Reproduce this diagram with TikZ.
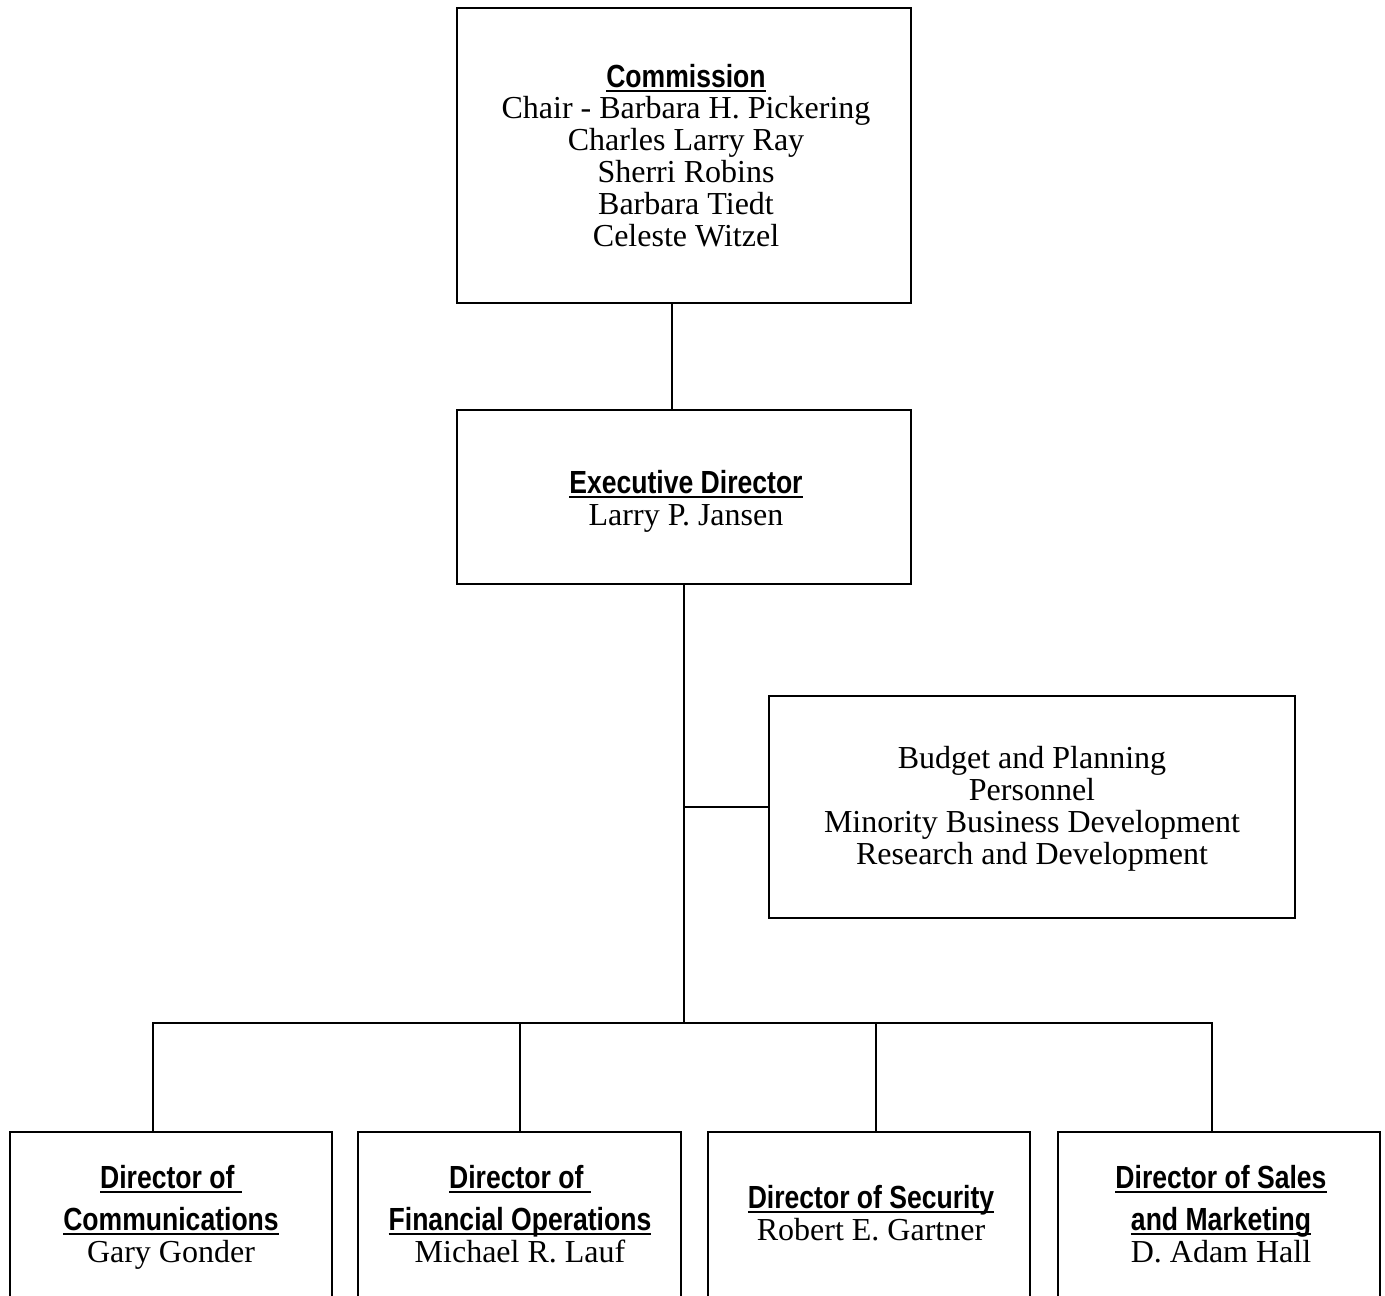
\documentclass[tikz,border=0pt]{standalone}
\usepackage{fontspec}
\setmainfont{Liberation Serif}
\newfontfamily\hdfont[FakeStretch=0.83]{Liberation Sans}
\newsavebox\hulbox
\newcommand\hul[1]{\sbox\hulbox{#1}\rlap{\rule[-4.5pt]{\wd\hulbox}{2pt}}\usebox\hulbox}
\tikzset{
  box/.style={draw, line width=2.8pt, inner sep=0pt, outer sep=0pt},
  conn/.style={line width=2.8pt},
  hd/.style={font=\hdfont\bfseries\fontsize{32}{34}\selectfont, anchor=base, inner sep=0pt},
  tx/.style={font=\fontsize{32}{32}\selectfont, anchor=base, inner sep=0pt},
}
\begin{document}
\begin{tikzpicture}[x=1pt,y=-1pt]
\useasboundingbox (0,0) rectangle (1385,1296);
\clip (0,0) rectangle (1385,1296);
\fill[white] (0,0) rectangle (1385,1296);
% boxes
\node[box, minimum width=454pt, minimum height=295pt] (comm) at (684,155.5) {};
\node[box, minimum width=454pt, minimum height=174pt] (exec) at (684,497) {};
\node[box, minimum width=526pt, minimum height=222pt] (budget) at (1032,807) {};
\node[box, minimum width=322pt, minimum height=268pt] (d1) at (171,1266) {};
\node[box, minimum width=323pt, minimum height=268pt] (d2) at (519.5,1266) {};
\node[box, minimum width=322pt, minimum height=268pt] (d3) at (869,1266) {};
\node[box, minimum width=322pt, minimum height=268pt] (d4) at (1219,1266) {};
% helper coordinates
\coordinate (cx1) at (672,0);
\coordinate (cx2) at (684,0);
\coordinate (bus) at (0,1023);
\coordinate (dx1) at (153,0);
\coordinate (dx2) at (520,0);
\coordinate (dx3) at (876,0);
\coordinate (dx4) at (1212,0);
% connectors
\draw[conn] (comm.south -| cx1) -- (exec.north -| cx1);
\draw[conn] (exec.south -| cx2) -- (bus -| cx2);
\draw[conn] (cx2 |- budget.west) -- (budget.west);
\draw[conn] (d1.north -| dx1) -- (bus -| dx1) -- (bus -| dx4) -- (d4.north -| dx4);
\draw[conn] (bus -| dx2) -- (d2.north -| dx2);
\draw[conn] (bus -| dx3) -- (d3.north -| dx3);
% Commission text
\node[hd] (t-comm) at (686,87) {\hul{Commission}};
\node[tx] (t-c1) at (686,118) {Chair - Barbara H. Pickering};
\node[tx] (t-c2) at (686,150) {Charles Larry Ray};
\node[tx] (t-c3) at (686,182) {Sherri Robins};
\node[tx] (t-c4) at (686,214) {Barbara Tiedt};
\node[tx] (t-c5) at (686,246) {Celeste Witzel};
% Executive
\node[hd] (t-exec) at (686,493) {\hul{Executive Director}};
\node[tx] (t-e1) at (686,525) {Larry P. Jansen};
% Budget
\node[tx] (t-b1) at (1032,768) {Budget and Planning};
\node[tx] (t-b2) at (1032,800) {Personnel};
\node[tx] (t-b3) at (1032,832) {Minority Business Development};
\node[tx] (t-b4) at (1032,864) {Research and Development};
% Directors
\node[hd] (t-d1a) at (171,1188) {\hul{Director of }};
\node[hd] (t-d1b) at (171,1230) {\hul{Communications}};
\node[tx] (t-d1c) at (171,1262) {Gary Gonder};
\node[hd] (t-d2a) at (520,1188) {\hul{Director of }};
\node[hd] (t-d2b) at (520,1230) {\hul{Financial Operations}};
\node[tx] (t-d2c) at (520,1262) {Michael R. Lauf};
\node[hd] (t-d3a) at (871,1208) {\hul{Director of Security}};
\node[tx] (t-d3b) at (871,1240) {Robert E. Gartner};
\node[hd] (t-d4a) at (1221,1188) {\hul{Director of Sales}};
\node[hd] (t-d4b) at (1221,1230) {\hul{and Marketing}};
\node[tx] (t-d4c) at (1221,1262) {D. Adam Hall};
\end{tikzpicture}
\end{document}
